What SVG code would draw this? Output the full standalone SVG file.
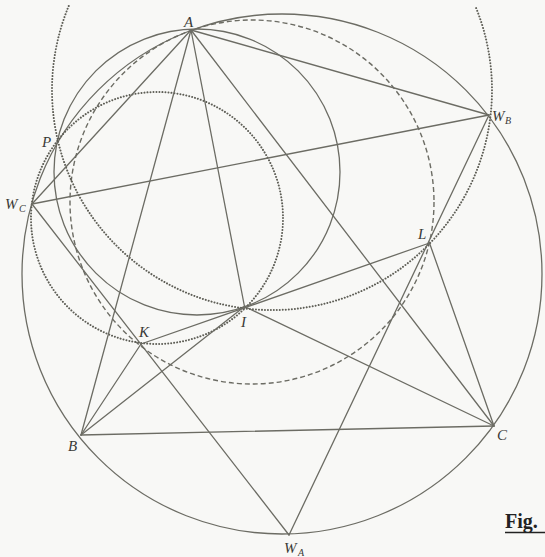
<svg xmlns="http://www.w3.org/2000/svg" width="545" height="557" viewBox="0 0 545 557">
<style>
.ln{stroke:#6c6c64;stroke-width:1.3;fill:none;stroke-linecap:round}
.sol{stroke:#6c6c64;stroke-width:1.3;fill:none}
.dash{stroke:#6c6c64;stroke-width:1.4;fill:none;stroke-dasharray:5 3}
.dot{stroke:#5e5e56;stroke-width:2;fill:none;stroke-dasharray:0.01 3;stroke-linecap:round}
.lbl{font-family:"Liberation Serif","DejaVu Serif",serif;font-style:italic;font-size:15px;fill:#3a3a36}
.sub{font-family:"Liberation Serif","DejaVu Serif",serif;font-style:italic;font-size:10px;fill:#3a3a36}
.fig{font-family:"Liberation Serif","DejaVu Serif",serif;font-weight:bold;font-size:20px;fill:#222}
</style>
<rect width="545" height="557" fill="#f8f8f6"/>
<g id="circles">
<circle id="circumcircle" class="sol" cx="282" cy="274" r="260"/>
<circle id="circle-API" class="sol" cx="197" cy="172" r="143"/>
<circle id="circle-AKL" class="dash" cx="252" cy="202" r="182"/>
<circle id="circle-PWcKI" class="dot" cx="157" cy="218" r="126"/>
<path id="circle-PWbLI" class="dot" d="M 68.7 6 A 220 220 0 1 0 475.3 6"/>
</g>
<g id="connectors">
<line class="ln" x1="191" y1="30" x2="81" y2="435"/>
<line class="ln" x1="191" y1="30" x2="494" y2="426"/>
<line class="ln" x1="81" y1="435" x2="494" y2="426"/>
<line class="ln" x1="191" y1="30" x2="244.5" y2="306.5"/>
<line class="ln" x1="191" y1="30" x2="489" y2="115"/>
<line class="ln" x1="191" y1="30" x2="32" y2="204"/>
<line class="ln" x1="32" y1="204" x2="489" y2="115"/>
<line class="ln" x1="32" y1="204" x2="289" y2="535"/>
<line class="ln" x1="489" y1="115" x2="289" y2="535"/>
<line class="ln" x1="81" y1="435" x2="141" y2="344"/>
<line class="ln" x1="81" y1="435" x2="244.5" y2="306.5"/>
<line class="ln" x1="494" y1="426" x2="244.5" y2="306.5"/>
<line class="ln" x1="494" y1="426" x2="429.5" y2="243"/>
<line class="ln" x1="141" y1="344" x2="429.5" y2="243"/>
</g>
<g id="node-A"><text class="lbl" x="184" y="27">A</text></g>
<g id="node-WB"><text class="lbl" x="492" y="121">W</text><text class="sub" x="505" y="124">B</text></g>
<g id="node-P"><text class="lbl" x="42" y="147">P</text></g>
<g id="node-WC"><text class="lbl" x="5" y="209">W</text><text class="sub" x="19" y="212">C</text></g>
<g id="node-L"><text class="lbl" x="418" y="239">L</text></g>
<g id="node-I"><text class="lbl" x="241" y="327">I</text></g>
<g id="node-K"><text class="lbl" x="139" y="337">K</text></g>
<g id="node-B"><text class="lbl" x="68" y="451">B</text></g>
<g id="node-C"><text class="lbl" x="497" y="440">C</text></g>
<g id="node-WA"><text class="lbl" x="284" y="553">W</text><text class="sub" x="298" y="556">A</text></g>
<g id="caption"><text class="fig" x="505" y="528">Fig.</text><line x1="505" y1="532.5" x2="545" y2="532.5" stroke="#222" stroke-width="1.6"/></g>
</svg>
